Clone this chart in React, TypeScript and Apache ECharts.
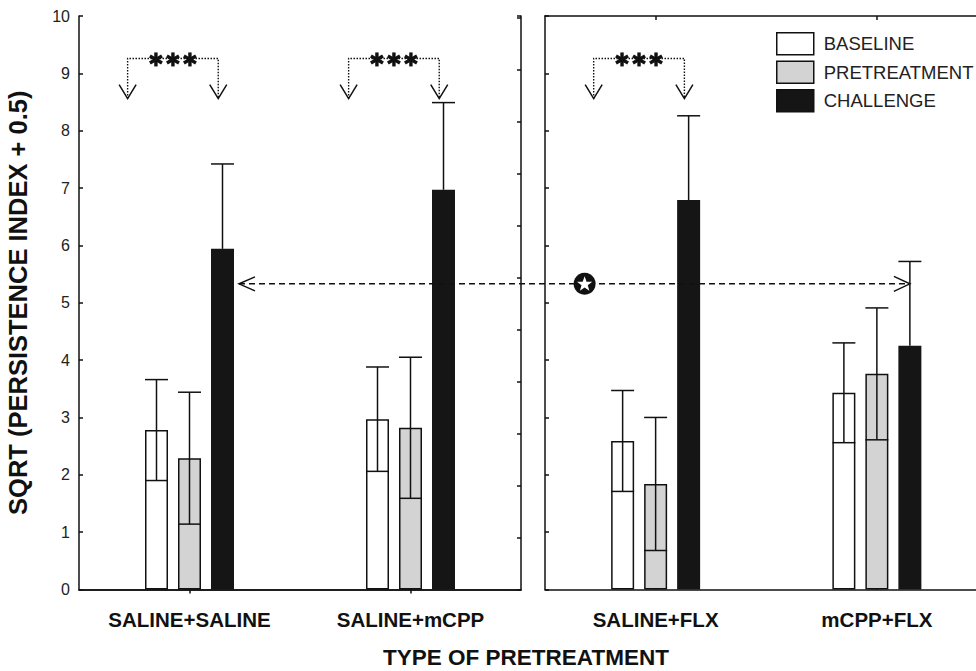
import React, { useEffect, useRef } from 'react';
import * as echarts from 'echarts';

const FONT = '"Liberation Sans", Arial, Helvetica, sans-serif';

const categoriesLeft = ['SALINE+SALINE', 'SALINE+mCPP'];
const categoriesRight = ['SALINE+FLX', 'mCPP+FLX'];
const seriesNames = ['BASELINE', 'PRETREATMENT', 'CHALLENGE'];

// order: SALINE+SALINE, SALINE+mCPP, SALINE+FLX, mCPP+FLX
const baselineMean = [2.78, 2.97, 2.59, 3.43];
const baselineSE = [0.88, 0.91, 0.88, 0.87];
const pretreatMean = [2.29, 2.82, 1.84, 3.76];
const pretreatSE = [1.15, 1.23, 1.16, 1.15];
const challengeMean = [5.94, 6.97, 6.79, 4.25];
const challengeSE = [1.48, 1.52, 1.47, 1.47];

const yTicks = [0, 10];
// significance brackets: [category index, top value, arrow tip value]
const bracketsLeft = [[0, 9.26, 8.56], [1, 9.26, 8.56]];
const bracketsRight = [[0, 9.26, 8.56]];
const comparisonValue = 5.33;

const BAR_W = 23;
const BAR_STEP = 33;
const INK = '#111';
const CHART_W = 990;

function errorSeries(xi: number, yi: number, means: number[], ses: number[], offset: number, hideLower: boolean) {
  return {
    type: 'custom',
    xAxisIndex: xi,
    yAxisIndex: yi,
    z: 5,
    silent: true,
    data: means.map((m, i) => [i, m, ses[i]]),
    renderItem: (params: any, api: any) => {
      const i = api.value(0);
      const m = api.value(1);
      const s = api.value(2);
      const top = api.coord([i, m + s]);
      const mid = api.coord([i, m]);
      const low = api.coord([i, m - s]);
      const x = top[0] + offset;
      const hw = BAR_W / 2;
      const st = { stroke: INK, lineWidth: 1.5 };
      const children: any[] = [
        { type: 'line', shape: { x1: x, y1: top[1], x2: x, y2: hideLower ? mid[1] : low[1] }, style: st },
        { type: 'line', shape: { x1: x - hw, y1: top[1], x2: x + hw, y2: top[1] }, style: st },
      ];
      if (!hideLower) {
        children.push({ type: 'line', shape: { x1: x - hw, y1: low[1], x2: x + hw, y2: low[1] }, style: st });
      }
      return { type: 'group', children };
    },
  };
}

function asterisk(cx: number, cy: number) {
  const r = 7;
  const st = { stroke: INK, lineWidth: 3.4, lineCap: 'butt' };
  const arms: any[] = [];
  [90, 30, -30].forEach((deg) => {
    const a = (deg * Math.PI) / 180;
    arms.push({
      type: 'line',
      shape: { x1: cx - r * Math.cos(a), y1: cy - r * Math.sin(a), x2: cx + r * Math.cos(a), y2: cy + r * Math.sin(a) },
      style: st,
    });
  });
  return arms;
}

function bracketSeries(xi: number, yi: number, data: number[][]) {
  return {
    type: 'custom',
    xAxisIndex: xi,
    yAxisIndex: yi,
    z: 6,
    silent: true,
    clip: false,
    data,
    renderItem: (params: any, api: any) => {
      const i = api.value(0);
      const top = api.coord([i, api.value(1)]);
      const tip = api.coord([i, api.value(2)]);
      const band = api.size([1, 0])[0];
      const xl = top[0] - 0.28 * band;
      const xr = top[0] + 0.13 * band;
      const xm = (xl + xr) / 2;
      const dotted = { stroke: INK, lineWidth: 1.4, lineDash: [1.5, 1.5], fill: null };
      const solid = { stroke: INK, lineWidth: 1.5, fill: null };
      const ah = 14;
      const aw = 8.5;
      return {
        type: 'group',
        children: [
          {
            type: 'polyline',
            shape: { points: [[xl, tip[1]], [xl, top[1]], [xr, top[1]], [xr, tip[1]]] },
            style: dotted,
          },
          { type: 'polyline', shape: { points: [[xl - aw, tip[1] - ah], [xl, tip[1]], [xl + aw, tip[1] - ah]] }, style: solid },
          { type: 'polyline', shape: { points: [[xr - aw, tip[1] - ah], [xr, tip[1]], [xr + aw, tip[1] - ah]] }, style: solid },
          ...asterisk(xm - 17, top[1] + 1),
          ...asterisk(xm, top[1] + 1),
          ...asterisk(xm + 17, top[1] + 1),
        ],
      };
    },
  };
}

function barSeries(xi: number, yi: number, from: number, to: number) {
  const styles = [
    { color: '#ffffff', borderColor: INK, borderWidth: 1.5 },
    { color: '#d3d3d3', borderColor: INK, borderWidth: 1.5 },
    { color: '#151515', borderColor: '#151515', borderWidth: 0 },
  ];
  const means = [baselineMean, pretreatMean, challengeMean];
  return seriesNames.map((name, k) => ({
    type: 'bar',
    name,
    xAxisIndex: xi,
    yAxisIndex: yi,
    barWidth: BAR_W,
    barGap: ((BAR_STEP - BAR_W) / BAR_W) * 100 + '%',
    data: means[k].slice(from, to),
    itemStyle: styles[k],
    z: 2,
  }));
}

function allErrors(xi: number, yi: number, from: number, to: number) {
  const means = [baselineMean, pretreatMean, challengeMean];
  const ses = [baselineSE, pretreatSE, challengeSE];
  return [0, 1, 2].map((k) =>
    errorSeries(xi, yi, means[k].slice(from, to), ses[k].slice(from, to), (k - 1) * BAR_STEP, k === 2)
  );
}

const axisLine = { show: true, lineStyle: { color: INK, width: 1.5 } };
const inTick = { show: true, inside: true, alignWithLabel: true, length: 4, lineStyle: { color: INK, width: 1.5 } };

export default function App() {
  const ref = useRef<HTMLDivElement>(null);
  useEffect(() => {
    if (!ref.current) return;
    const chart = echarts.init(ref.current, null, { renderer: 'svg' });
    const option: any = {
      animation: false,
      backgroundColor: '#fff',
      textStyle: { fontFamily: FONT },
      legend: {
        left: 776,
        top: 32,
        padding: 0,
        orient: 'vertical',
        itemWidth: 37,
        itemHeight: 22,
        itemGap: 5,
        icon: 'rect',
        data: seriesNames,
        selectedMode: false,
        itemStyle: { borderColor: INK, borderWidth: 1.5 },
        textStyle: { fontSize: 18.5, color: '#222', fontFamily: FONT, padding: [0, 0, 0, 5] },
      },
      grid: [
        { left: 79, right: CHART_W - 521, top: 16, bottom: 81.5 },
        { left: 545, right: CHART_W - 987.5, top: 16, bottom: 81.5 },
      ],
      xAxis: [
        {
          type: 'category', gridIndex: 0, position: 'bottom', data: categoriesLeft,
          axisLine, axisTick: inTick,
          axisLabel: { fontSize: 20.5, fontWeight: 'bold', color: INK, margin: 19, fontFamily: FONT },
        },
        {
          type: 'category', gridIndex: 0, position: 'top', data: categoriesLeft,
          axisLine, axisTick: inTick, axisLabel: { show: false },
        },
        {
          type: 'category', gridIndex: 1, position: 'bottom', data: categoriesRight,
          axisLine, axisTick: inTick,
          axisLabel: { fontSize: 20.5, fontWeight: 'bold', color: INK, margin: 19, fontFamily: FONT },
        },
        {
          type: 'category', gridIndex: 1, position: 'top', data: categoriesRight,
          axisLine, axisTick: inTick, axisLabel: { show: false },
        },
      ],
      yAxis: [
        {
          type: 'value', gridIndex: 0, position: 'left', min: yTicks[0], max: yTicks[1], interval: 1,
          axisLine, splitLine: { show: false },
          axisTick: { show: true, inside: true, length: 4, lineStyle: { color: INK, width: 1.5 } },
          axisLabel: { fontSize: 16, color: '#222', margin: 9, fontFamily: FONT },
          name: 'SQRT (PERSISTENCE INDEX + 0.5)',
          nameLocation: 'middle',
          nameRotate: 90,
          nameGap: 48,
          nameTextStyle: { fontSize: 25.5, fontWeight: 'bold', color: INK, fontFamily: FONT },
        },
        {
          type: 'value', gridIndex: 0, position: 'right', min: 0, max: 11.03, interval: 1,
          axisLine, splitLine: { show: false },
          axisTick: { show: true, inside: true, length: 4, lineStyle: { color: INK, width: 1.5 } },
          axisLabel: { show: false },
        },
        {
          type: 'value', gridIndex: 1, position: 'left', min: yTicks[0], max: yTicks[1], interval: 1,
          axisLine, splitLine: { show: false },
          axisTick: { show: true, inside: true, length: 4, lineStyle: { color: INK, width: 1.5 } },
          axisLabel: { show: false },
        },
      ],
      series: [
        ...barSeries(0, 0, 0, 2),
        ...barSeries(2, 2, 2, 4),
        ...allErrors(0, 0, 0, 2),
        ...allErrors(2, 2, 2, 4),
        bracketSeries(0, 0, bracketsLeft),
        bracketSeries(2, 2, bracketsRight),
      ],
    };
    chart.setOption(option);

    const pL = chart.convertToPixel({ gridIndex: 0 }, [0, comparisonValue]) as number[];
    const pR0 = chart.convertToPixel({ gridIndex: 1 }, [0, comparisonValue]) as number[];
    const pR1 = chart.convertToPixel({ gridIndex: 1 }, [1, comparisonValue]) as number[];
    const y = pL[1];
    const x1 = pL[0] + BAR_STEP + BAR_W / 2 + 5;
    const x2 = pR1[0] + BAR_STEP;
    const sx = pR0[0] - 71;
    const starPts: number[][] = [];
    for (let k = 0; k < 10; k++) {
      const r = k % 2 === 0 ? 8 : 3.3;
      const a = -Math.PI / 2 + (k * Math.PI) / 5;
      starPts.push([sx + r * Math.cos(a), y + 0.5 + r * Math.sin(a)]);
    }
    const solid = { stroke: INK, lineWidth: 1.5, fill: null };
    chart.setOption({
      graphic: [
        { type: 'line', z: 20, shape: { x1, y1: y, x2, y2: y }, style: { stroke: INK, lineWidth: 1.5, lineDash: [6, 4] } },
        { type: 'polyline', z: 20, shape: { points: [[x1 + 16, y - 7], [x1, y], [x1 + 16, y + 7]] }, style: solid },
        { type: 'polyline', z: 20, shape: { points: [[x2 - 16, y - 7.5], [x2, y], [x2 - 16, y + 7.5]] }, style: solid },
        { type: 'circle', z: 21, shape: { cx: sx, cy: y, r: 11 }, style: { fill: INK } },
        { type: 'polygon', z: 22, shape: { points: starPts }, style: { fill: '#fff' } },
        {
          type: 'text', z: 20, x: 526, y: 657,
          style: { text: 'TYPE OF PRETREATMENT', fill: INK, font: `bold 22.5px ${FONT}`, align: 'center', verticalAlign: 'middle' },
        },
      ],
    });
    return () => chart.dispose();
  }, []);
  return (
    <div style={{ position: 'absolute', left: 0, top: 0, width: 976, height: 671, overflow: 'hidden' }}>
      <div ref={ref} style={{ width: CHART_W, height: 671 }} />
    </div>
  );
}
